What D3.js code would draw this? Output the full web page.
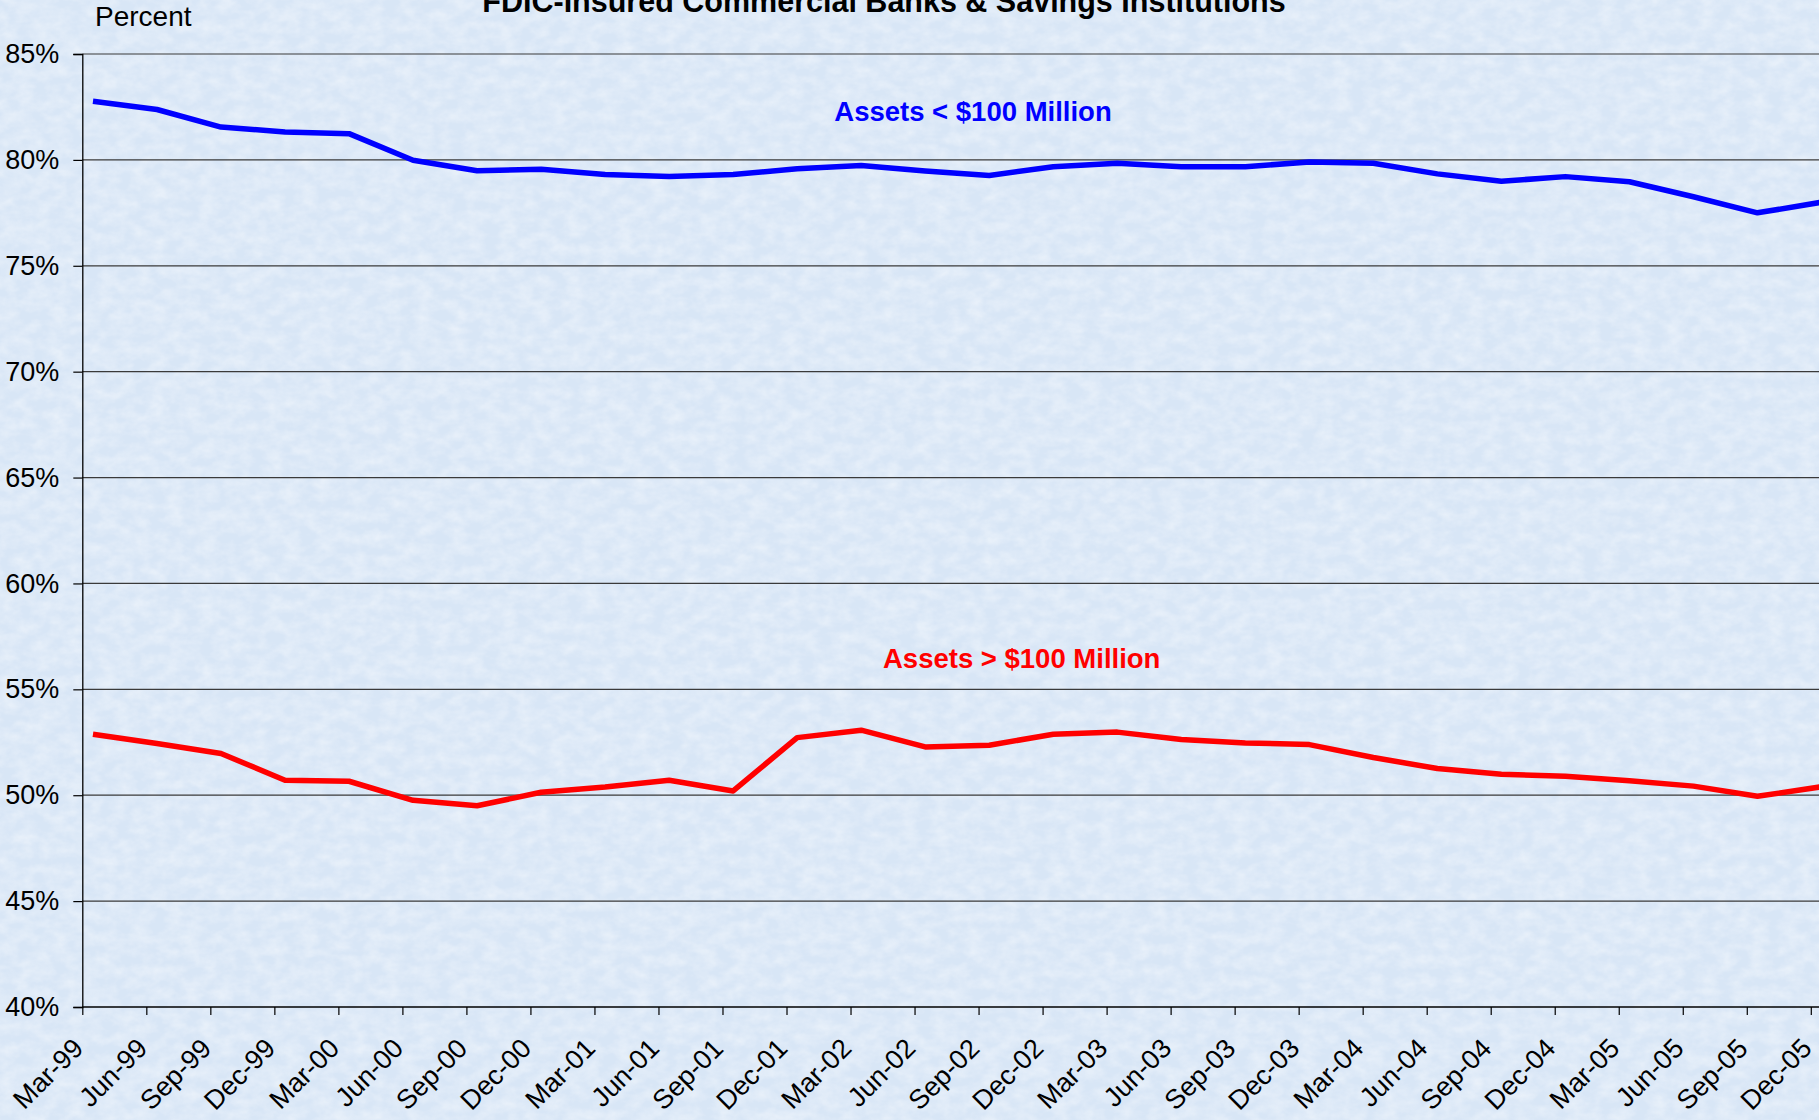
<!DOCTYPE html>
<html>
<head>
<meta charset="utf-8">
<script src="https://cdn.jsdelivr.net/npm/d3@7"></script>
<style>
  html, body { margin: 0; padding: 0; background: #d9e7f6; overflow: hidden; }
  svg { display: block; }
  text { font-family: "Liberation Sans", Arial, sans-serif; }
</style>
</head>
<body>
<svg id="chart" width="1819" height="1120"></svg>
<script>
// ---- Data ----
const quarters = ["Mar-99","Jun-99","Sep-99","Dec-99","Mar-00","Jun-00","Sep-00","Dec-00",
  "Mar-01","Jun-01","Sep-01","Dec-01","Mar-02","Jun-02","Sep-02","Dec-02",
  "Mar-03","Jun-03","Sep-03","Dec-03","Mar-04","Jun-04","Sep-04","Dec-04",
  "Mar-05","Jun-05","Sep-05","Dec-05"];

const smallBanks = [82.77, 82.38, 81.55, 81.32, 81.24, 79.98, 79.49, 79.56,
  79.31, 79.22, 79.31, 79.58, 79.74, 79.47, 79.26, 79.68,
  79.84, 79.68, 79.68, 79.90, 79.84, 79.34, 78.99, 79.21,
  78.97, 78.26, 77.50, 78.00];

const largeBanks = [52.88, 52.44, 51.97, 50.71, 50.66, 49.76, 49.50, 50.14,
  50.39, 50.71, 50.20, 52.72, 53.07, 52.28, 52.36, 52.88,
  52.98, 52.63, 52.47, 52.39, 51.78, 51.26, 50.99, 50.90,
  50.68, 50.43, 49.95, 50.40];

const yTicks = [40, 45, 50, 55, 60, 65, 70, 75, 80, 85];

const titleText = "FDIC-Insured Commercial Banks & Savings Institutions";
const yAxisTitle = "Percent";
const smallLabel = "Assets < $100 Million";
const largeLabel = "Assets > $100 Million";

// ---- Layout ----
const W = 1819, H = 1120;
const plotLeft = 82.3, lastTickX = 1810.8;
const yTop = 54, yBottom = 1007;

const svg = d3.select("#chart");

// background with subtle texture
const defs = svg.append("defs");
const f = defs.append("filter").attr("id", "tex").attr("x", 0).attr("y", 0).attr("width", 1).attr("height", 1);
f.append("feTurbulence").attr("type", "fractalNoise").attr("baseFrequency", "0.06 0.09")
  .attr("numOctaves", 3).attr("seed", 7).attr("result", "n");
f.append("feColorMatrix").attr("in", "n").attr("type", "matrix")
  .attr("values", "0 0 0 0 1  0 0 0 0 1  0 0 0 0 1  0 0 0 1.5 -0.45");
svg.append("rect").attr("width", W).attr("height", H).attr("fill", "#d8e6f6");
svg.append("rect").attr("width", W).attr("height", H).attr("filter", "url(#tex)").attr("opacity", 0.45);

const x = d3.scaleLinear().domain([0, quarters.length - 1]).range([plotLeft, lastTickX]);
const y = d3.scaleLinear().domain([40, 85]).range([yBottom, yTop]);

// gridlines
svg.append("g").selectAll("line").data(yTicks.filter(d => d > 40)).join("line")
  .attr("x1", plotLeft).attr("x2", W)
  .attr("y1", d => y(d)).attr("y2", d => y(d))
  .attr("stroke", "#3a3a3a").attr("stroke-width", 1.2);

// y axis
const yAxis = d3.axisLeft(y).tickValues(yTicks).tickSize(9).tickPadding(14)
  .tickFormat(d => d + "%");
const gy = svg.append("g").attr("transform", `translate(${plotLeft},0)`).call(yAxis);
gy.select(".domain").attr("stroke", "#000").attr("stroke-width", 1.3);
gy.selectAll(".tick line").attr("stroke", "#000").attr("stroke-width", 1.2);
gy.selectAll(".tick text").attr("font-size", 27).attr("fill", "#000")
  .attr("font-family", "Liberation Sans, Arial, sans-serif");

// x axis
const xAxis = d3.axisBottom(x).tickValues(d3.range(quarters.length)).tickSize(8)
  .tickFormat(i => quarters[i]);
const gx = svg.append("g").attr("transform", `translate(0,${yBottom})`).call(xAxis);
gx.select(".domain").attr("stroke", "#000").attr("stroke-width", 1.6).attr("d", `M${plotLeft},0H${W}`);
gx.selectAll(".tick line").attr("stroke", "#000").attr("stroke-width", 1.2);
gx.selectAll(".tick text")
  .attr("font-size", 27).attr("fill", "#000")
  .attr("font-family", "Liberation Sans, Arial, sans-serif")
  .attr("text-anchor", "end")
  .attr("dy", null).attr("y", 0)
  .attr("transform", "translate(2,43) rotate(-45)");

// lines
const line = d3.line().x((d, i) => x(i + 1 / 6)).y(d => y(d));
svg.append("path").datum(smallBanks).attr("d", line)
  .attr("fill", "none").attr("stroke", "#0000ff").attr("stroke-width", 5.5)
  .attr("stroke-linejoin", "round");
svg.append("path").datum(largeBanks).attr("d", line)
  .attr("fill", "none").attr("stroke", "#ff0000").attr("stroke-width", 5.5)
  .attr("stroke-linejoin", "round");

// texts
svg.append("text").attr("x", 884).attr("y", 12).attr("text-anchor", "middle")
  .attr("font-size", 30.5).attr("font-weight", "bold").attr("fill", "#000").text(titleText);
svg.append("text").attr("x", 95).attr("y", 26)
  .attr("font-size", 28).attr("fill", "#000").text(yAxisTitle);
svg.append("text").attr("x", 973).attr("y", 121).attr("text-anchor", "middle")
  .attr("font-size", 27.5).attr("font-weight", "bold").attr("fill", "#0000ff").text(smallLabel);
svg.append("text").attr("x", 1021.7).attr("y", 668).attr("text-anchor", "middle")
  .attr("font-size", 27.5).attr("font-weight", "bold").attr("fill", "#ff0000").text(largeLabel);
</script>
</body>
</html>
